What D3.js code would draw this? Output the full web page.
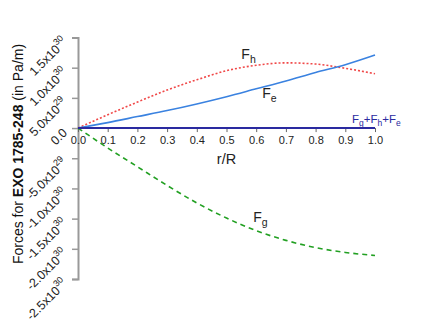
<!DOCTYPE html>
<html>
<head>
<meta charset="utf-8">
<script src="https://cdn.jsdelivr.net/npm/d3@7"></script>
<style>
  body { margin: 0; background: #fff; }
  text { font-family: "Liberation Sans", Arial, sans-serif; }
</style>
</head>
<body>
<script>
// r/R sample points and force curves (units of 1e30 Pa/m)
var rr   = [0, 0.1, 0.2, 0.3, 0.4, 0.5, 0.6, 0.7, 0.8, 0.9, 1.0];
var fh   = [0, 0.22, 0.43, 0.63, 0.80, 0.95, 1.04, 1.08, 1.06, 0.99, 0.90];
var fe   = [0, 0.09, 0.19, 0.29, 0.40, 0.52, 0.65, 0.78, 0.92, 1.05, 1.21];
var fg   = [0, -0.33, -0.64, -0.95, -1.24, -1.49, -1.70, -1.86, -1.98, -2.06, -2.11];
var fsum = [0, 0, 0, 0, 0, 0, 0, 0, 0, 0, 0];
var xTicks = [0, 0.1, 0.2, 0.3, 0.4, 0.5, 0.6, 0.7, 0.8, 0.9, 1.0];
var yTicks = [-2.5, -2.0, -1.5, -1.0, -0.5, 0, 0.5, 1.0, 1.5];
var yTickMant = ["-2.5", "-2.0", "-1.5", "-1.0", "-5.0", "0.0", "5.0", "1.0", "1.5"];
var yTickExp  = ["30", "30", "30", "30", "29", "", "29", "30", "30"];

var width = 436, height = 334;

var x = d3.scaleLinear().domain([0, 1]).range([78, 375]);
var y = d3.scaleLinear().domain([-2.5, 1.5]).range([279, 37.5]);

var svg = d3.select("body").append("svg")
  .attr("width", width)
  .attr("height", height);

// y axis
var yAxis = d3.axisLeft(y).tickValues(yTicks).tickSize(6).tickFormat("");
var gy = svg.append("g")
  .attr("transform", "translate(" + x(0) + ",0)")
  .call(yAxis);
gy.select(".domain").attr("stroke", "#999").attr("stroke-width", 2);
gy.selectAll(".tick line").attr("stroke", "#999").attr("stroke-width", 1.5);

gy.selectAll(".tick").each(function(d, i) {
  var t = d3.select(this).append("text")
    .attr("fill", "#222")
    .attr("font-size", 12.5)
    .attr("text-anchor", "end")
    .attr("transform", "translate(-10,5) rotate(-45)");
  t.append("tspan").text(yTickExp[i] ? yTickMant[i] + "x10" : yTickMant[i]);
  if (yTickExp[i]) {
    t.append("tspan").attr("dy", -6).attr("font-size", 9).text(yTickExp[i]);
  }
});

// x axis ticks
var xAxis = d3.axisBottom(x).tickValues(xTicks).tickSize(4).tickFormat(d3.format(".1f"));
var gx = svg.append("g")
  .attr("transform", "translate(0," + y(0) + ")")
  .call(xAxis);
gx.select(".domain").remove();
gx.selectAll(".tick line").attr("stroke", "#666");
gx.selectAll(".tick text").attr("font-size", 11).attr("fill", "#222").attr("dy", "0.85em")
  .attr("font-family", "'Liberation Sans', Arial, sans-serif");

function series(vals) {
  return rr.map(function(r, i) { return [r, vals[i]]; });
}

var line = d3.line()
  .x(function(d) { return x(d[0]); })
  .y(function(d) { return y(d[1]); })
  .curve(d3.curveMonotoneX);

svg.append("path").datum(series(fh))
  .attr("d", line).attr("fill", "none")
  .attr("stroke", "#f04848").attr("stroke-width", 1.6).attr("stroke-dasharray", "2,2");

svg.append("path").datum(series(fe))
  .attr("d", line).attr("fill", "none")
  .attr("stroke", "#3a82e0").attr("stroke-width", 1.6);

svg.append("path").datum(series(fg))
  .attr("d", line).attr("fill", "none")
  .attr("stroke", "#22a022").attr("stroke-width", 1.6).attr("stroke-dasharray", "5,4");

svg.append("path").datum(series(fsum))
  .attr("d", line).attr("fill", "none")
  .attr("stroke", "#2a2aa0").attr("stroke-width", 2);

// curve labels
function label(px, py, sub, color, size) {
  var t = svg.append("text").attr("x", px).attr("y", py)
    .attr("fill", color).attr("font-size", size);
  t.append("tspan").text("F");
  t.append("tspan").attr("dy", 4).attr("font-size", size * 0.75).text(sub);
  return t;
}
label(x(0.55), y(1.15), "h", "#222", 14);
label(x(0.62), y(0.5), "e", "#222", 14);
label(x(0.59), y(-1.55), "g", "#222", 14);

var ts = svg.append("text").attr("x", 352).attr("y", 123)
  .attr("fill", "#2a2aa0").attr("font-size", 11.5);
ts.append("tspan").text("F");
ts.append("tspan").attr("dy", 3).attr("font-size", 8.5).text("g");
ts.append("tspan").attr("dy", -3).text("+F");
ts.append("tspan").attr("dy", 3).attr("font-size", 8.5).text("h");
ts.append("tspan").attr("dy", -3).text("+F");
ts.append("tspan").attr("dy", 3).attr("font-size", 8.5).text("e");

// axis titles
svg.append("text")
  .attr("x", x(0.5)).attr("y", 164)
  .attr("text-anchor", "middle")
  .attr("font-size", 14.5).attr("fill", "#222")
  .text("r/R");

var yt = svg.append("text")
  .attr("transform", "translate(23,154) rotate(-90)")
  .attr("text-anchor", "middle")
  .attr("font-size", 14).attr("fill", "#111");
yt.append("tspan").text("Forces for ");
yt.append("tspan").attr("font-weight", "bold").text("EXO 1785-248");
yt.append("tspan").text(" (in Pa/m)");
</script>
</body>
</html>
